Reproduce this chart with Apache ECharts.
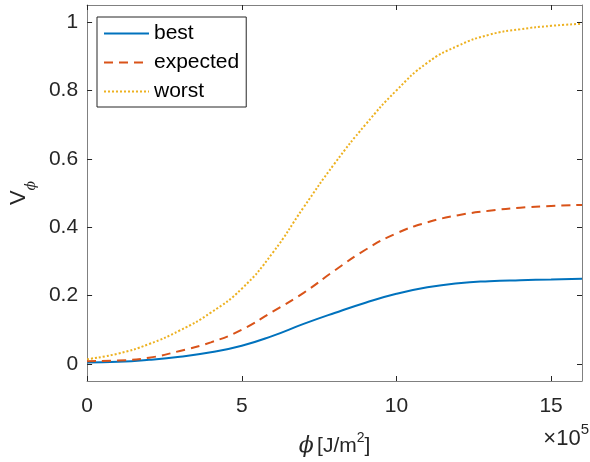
<!DOCTYPE html>
<html>
	<head>
		<meta charset="utf-8" />
		<title>V_phi</title>
		<script type="text/javascript" src="https://cdn.jsdelivr.net/npm/echarts@6/dist/echarts.min.js"></script>
		<style>
			html, body { margin: 0; padding: 0; background: #fff; }
			#chart { width: 590px; height: 462px; }
		</style>
	</head>
	<body>
		<div id="chart"></div>
		<script type="text/javascript">
			// phi in units of 1e5 J/m^2
			var phiVals = [0, 1, 2, 3, 4, 5, 6, 7, 8, 9, 10, 11, 12, 13, 14, 15, 16];
			var bestVals = [0.004, 0.006, 0.012, 0.021, 0.034, 0.053, 0.082, 0.117, 0.149, 0.179, 0.205, 0.224, 0.236, 0.242, 0.245, 0.247, 0.249];
			var expectedVals = [0.008, 0.01, 0.018, 0.038, 0.063, 0.1, 0.153, 0.208, 0.273, 0.334, 0.382, 0.414, 0.435, 0.448, 0.457, 0.462, 0.465];
			var worstVals = [0.014, 0.03, 0.058, 0.098, 0.15, 0.22, 0.325, 0.458, 0.586, 0.7, 0.8, 0.881, 0.931, 0.963, 0.979, 0.989, 0.995];
			var xTicks = [0, 5, 10, 15];
			var yTicks = [0, 0.2, 0.4, 0.6, 0.8, 1];

			var font = 'Liberation Sans, Arial, Helvetica, sans-serif';
			var textColor = '#262626';
			var boxColor = '#808080';

			function pairs(ys) {
				var out = [];
				for (var i = 0; i < phiVals.length; i++) {
					out.push([phiVals[i], ys[i]]);
				}
				return out;
			}

			function xAxisCfg(pos, showLabels) {
				return {
					type: 'value',
					position: pos,
					min: 0,
					max: 16,
					axisLine: { show: true, onZero: false, lineStyle: { color: boxColor, width: 1 } },
					axisTick: { show: true, inside: true, length: 5, customValues: xTicks, lineStyle: { color: textColor } },
					axisLabel: { show: showLabels, customValues: xTicks, margin: 15, color: textColor, fontSize: 21, fontFamily: font },
					splitLine: { show: false }
				};
			}

			function yAxisCfg(pos, showLabels) {
				return {
					type: 'value',
					position: pos,
					min: -0.05,
					max: 1.05,
					axisLine: { show: true, onZero: false, lineStyle: { color: boxColor, width: 1 } },
					axisTick: { show: true, inside: true, length: 5, customValues: yTicks, lineStyle: { color: textColor } },
					axisLabel: { show: showLabels, customValues: yTicks, margin: 9, color: textColor, fontSize: 21, fontFamily: font },
					splitLine: { show: false }
				};
			}

			var xMain = xAxisCfg('bottom', true);
			xMain.name = '{p|ϕ} {n|[J/m}{s|2}{n|]}';
			xMain.nameLocation = 'middle';
			xMain.nameGap = 50;
			xMain.nameTextStyle = {
				color: textColor,
				fontFamily: font,
				rich: {
					p: { fontSize: 22, fontStyle: 'italic', fontFamily: 'DejaVu Serif', color: textColor, lineHeight: 26, verticalAlign: 'bottom' },
					n: { fontSize: 21, fontFamily: font, color: textColor, lineHeight: 26, verticalAlign: 'bottom' },
					s: { fontSize: 14, fontFamily: font, color: textColor, lineHeight: 13, verticalAlign: 'top' }
				}
			};

			var yMain = yAxisCfg('left', true);
			yMain.name = '{v|V}{s|ϕ}';
			yMain.nameLocation = 'middle';
			yMain.nameRotate = 90;
			yMain.nameGap = 42;
			yMain.nameTextStyle = {
				color: textColor,
				rich: {
					v: { fontSize: 22, fontFamily: font, color: textColor, lineHeight: 30, verticalAlign: 'top' },
					s: { fontSize: 14, fontStyle: 'italic', fontFamily: 'DejaVu Serif', color: textColor, lineHeight: 14, verticalAlign: 'bottom' }
				}
			};

			var option = {
				animation: false,
				backgroundColor: '#ffffff',
				grid: { left: 86, right: 8, top: 5, bottom: 79, containLabel: false },
				legend: {
					orient: 'vertical',
					left: 97,
					top: 17,
					padding: [6, 7, 5, 6],
					itemWidth: 45,
					itemHeight: 14,
					itemGap: 8,
					borderColor: '#262626',
					borderWidth: 1,
					backgroundColor: '#ffffff',
					itemStyle: { opacity: 0 },
					textStyle: { color: '#000000', fontSize: 21, fontFamily: font },
					data: ['best', 'expected', 'worst']
				},
				xAxis: [xMain, xAxisCfg('top', false)],
				yAxis: [yMain, yAxisCfg('right', false)],
				graphic: [{
					type: 'text',
					right: 1,
					top: 422,
					style: {
						text: '{n|×10}{s|5}',
						rich: {
							n: { fontSize: 22, fontFamily: font, fill: textColor, lineHeight: 28, verticalAlign: 'bottom' },
							s: { fontSize: 15, fontFamily: font, fill: textColor, lineHeight: 15, verticalAlign: 'top' }
						}
					}
				}],
				series: [{
					name: 'best',
					type: 'line',
					data: pairs(bestVals),
					symbol: 'none',
					smooth: 0.5,
					lineStyle: { color: '#0072BD', width: 2, type: 'solid' },
					itemStyle: { color: '#0072BD' }
				}, {
					name: 'expected',
					type: 'line',
					data: pairs(expectedVals),
					symbol: 'none',
					smooth: 0.5,
					lineStyle: { color: '#D95319', width: 2, type: [9, 6] },
					itemStyle: { color: '#D95319' }
				}, {
					name: 'worst',
					type: 'line',
					data: pairs(worstVals),
					symbol: 'none',
					smooth: 0.5,
					lineStyle: { color: '#EDB120', width: 2, type: [2, 2] },
					itemStyle: { color: '#EDB120' }
				}]
			};

			var myChart = echarts.init(document.getElementById('chart'));
			myChart.setOption(option);
		</script>
	</body>
</html>
